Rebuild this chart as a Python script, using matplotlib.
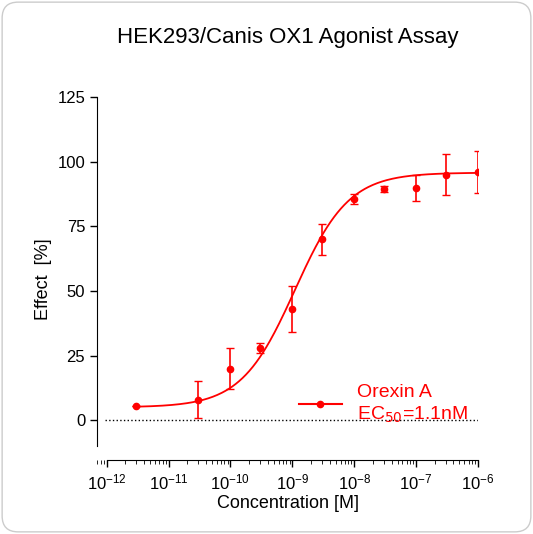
import numpy as np
import matplotlib
matplotlib.use("Agg")
import matplotlib.pyplot as plt
from matplotlib.patches import FancyBboxPatch

plt.rcParams['font.family'] = ['Liberation Sans', 'DejaVu Sans']

conc = [3e-12, 3e-11, 1e-10, 3e-10, 1e-9, 3e-9, 1e-8, 3e-8, 1e-7, 3e-7, 1e-6]
effect = [5.5, 8, 20, 28, 43, 70, 85.5, 89.5, 90, 95, 96]
err = [0, 7, 8, 2, 9, 6, 2, 1, 5, 8, 8]
bottom, top, ec50, hill = 5.0, 95.8, 1.1e-9, 1.0

fig = plt.figure(figsize=(5.33, 5.34), dpi=100)
fig.patches.append(FancyBboxPatch((0.004, 0.004), 0.992, 0.992, boxstyle="round,pad=0,rounding_size=0.03",
                                  transform=fig.transFigure, fc="white", ec="#cccccc", lw=1, zorder=-10))
ax = fig.add_axes([0.182, 0.138, 0.715, 0.68])
ax.set_facecolor("none")
red = "#ff0000"
xs = np.logspace(np.log10(3e-12), -6, 300)
ax.plot(xs, bottom + (top - bottom) / (1 + (ec50 / xs) ** hill), color=red, lw=1.3)
ax.errorbar(conc, effect, yerr=err, fmt="o", color=red, ms=4.5, capsize=3, elinewidth=1.2)
ax.plot([], [], "-o", color=red, ms=4.5, label="Orexin A\nEC$_{50}$=1.1nM")
ax.axhline(0, color="black", ls=":", lw=1, xmin=0.02)
ax.set_xscale("log")
ax.set_xlim(7e-13, 1e-6)
ax.set_ylim(-15.5, 125)
ax.spines[["top", "right"]].set_visible(False)
ax.spines["left"].set_bounds(-10, 125)
ax.spines["bottom"].set_bounds(1e-12, 1e-6)
ax.set_xticks([1e-12, 1e-11, 1e-10, 1e-9, 1e-8, 1e-7, 1e-6])
ax.set_yticks([0, 25, 50, 75, 100, 125])
ax.tick_params(labelsize=12, length=5, width=1)
ax.tick_params(which="minor", length=3)
ax.set_xlabel("Concentration [M]", fontsize=13, labelpad=2)
ax.set_ylabel("Effect  [%]", fontsize=13)
leg = ax.legend(loc="lower right", bbox_to_anchor=(1.02, 0.05), frameon=False, fontsize=14,
                handlelength=2.2, labelcolor=red)
fig.text(0.54, 0.93, "HEK293/Canis OX1 Agonist Assay", ha="center", va="center", fontsize=16)
fig.savefig("out.png", dpi=100)
